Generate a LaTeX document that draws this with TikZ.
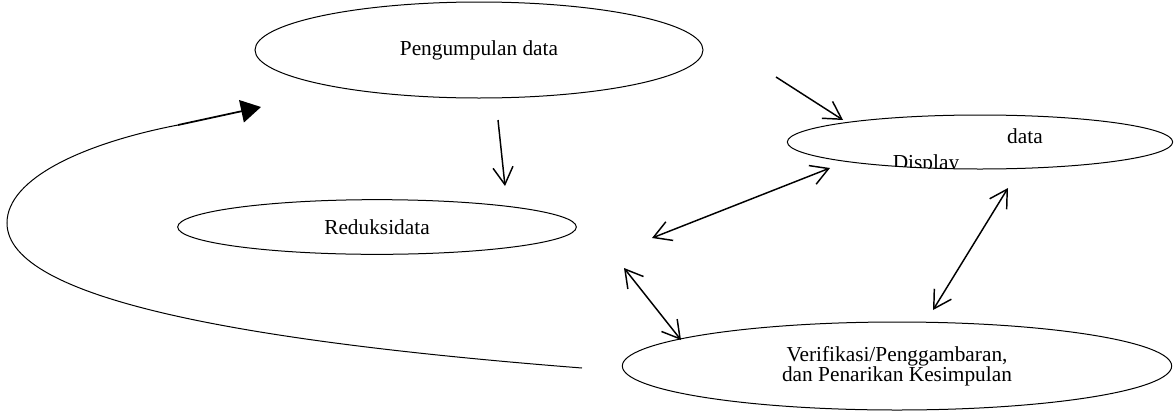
\documentclass[tikz,border=0pt]{standalone}
\usepackage{fontspec}
\setmainfont{Liberation Serif}
\usepackage{tikz}
\usetikzlibrary{shapes,shapes.geometric,arrows.meta,positioning}
\tikzstyle{oval} = [ellipse, draw, line width=0.75pt, inner sep=0pt, align=center,
    font=\fontsize{16}{15}\selectfont]
\tikzstyle{txt} = [inner sep=0pt, font=\fontsize{16}{15}\selectfont]
\tikzstyle{arrow} = [draw, line width=1.1pt, -{Straight Barb[length=13pt,width=15pt]}]
\tikzstyle{twoway} = [draw, line width=1.1pt,
    {Straight Barb[length=13pt,width=15pt]}-{Straight Barb[length=13pt,width=15pt]}]

\begin{document}
\begin{tikzpicture}[x=0.75pt, y=-0.75pt]
\useasboundingbox (0,0) rectangle (1174,411);

% Ovals
\node[oval, minimum width=336pt, minimum height=72pt] (kumpul) at (479,50) {Pengumpulan data};
\node[oval, minimum width=299pt, minimum height=41pt] (reduksi) at (377,227) {Reduksidata};
\node[oval, minimum width=289pt, minimum height=40.5pt] (display) at (980,142) {};
\node[oval, minimum width=412pt, minimum height=66pt] (verif) at (897,366)
    {Verifikasi/Penggambaran,\\dan Penarikan Kesimpulan};

% Display texts
\node[txt] (dtxt) at (1025,136) {data};
\begin{scope}
\clip (980,142) ellipse [x radius=193, y radius=27];
\node[txt] (disp) at (926,164) {Display};
\end{scope}

% Arrow ends
\coordinate (k1) at (498,120);
\coordinate (r1) at (505,186);
\coordinate (k2) at (776,77);
\coordinate (d1) at (843,120);
\coordinate (d2) at (830,168);
\coordinate (m1) at (652,238);
\coordinate (d3) at (1008,188);
\coordinate (v1) at (933,310);
\coordinate (m2) at (624,268);
\coordinate (v2) at (681,340);

% Arrows
\draw[arrow] (k1) -- (r1);
\draw[arrow] (k2) -- (d1);
\draw[twoway] (d2) -- (m1);
\draw[twoway] (d3) -- (v1);
\draw[twoway] (m2) -- (v2);

% Loop back
\coordinate (lstart) at (582,368);
\coordinate (lleft) at (7,223);
\coordinate (lend) at (178,125);
\coordinate (ltip) at (261,107);
\draw[line width=0.75pt] (lstart) .. controls (250,342) and (7,300) .. (lleft)
    .. controls (7,178) and (85,143) .. (lend);
\draw[line width=1.3pt, -{Triangle[length=15pt,width=17pt]}] (lend) -- (ltip);

\end{tikzpicture}
\end{document}
